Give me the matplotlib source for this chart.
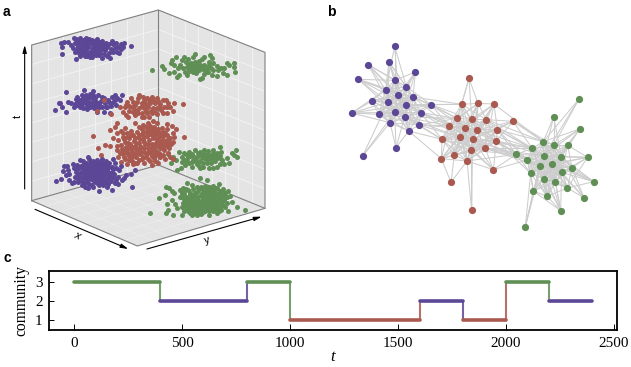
import numpy as np
import matplotlib
matplotlib.use('Agg')
import matplotlib.pyplot as plt
from matplotlib.patches import Polygon

## ------------------------------ colours -----------------------------------
PURPLE = '#5c4796'
RED = '#aa594f'
GREEN = '#5f8f55'

## ------------------------------ panel a data (positions) ---------
purple_top = [(183,130),(186,140),(186,162),(192,125),(205,127),(212,134),(222,113),(228,118),(238,122),(225,130),
(218,145),(225,157),(228,178),(240,115),(250,120),(255,128),(245,135),(235,140),(232,150),(242,148),(250,145),(245,158),
(240,168),(258,114),(268,118),(262,126),(272,130),(265,138),(258,150),(255,160),(262,168),(275,120),(285,122),(292,118),
(282,134),(275,145),(270,155),(280,160),(275,172),(290,140),(295,130),(300,126),(305,122),(290,152),(298,165),(305,175),
(310,135),(305,148),(318,130),(322,140),(315,150),(312,162),(322,168),(335,122),(338,132),(332,148),(340,155),(330,175),
(348,128),(355,140),(352,155),(362,132),(368,140),(362,148),(358,158),(372,128),(393,138),
(232,132),(240,130),(252,138),(262,145),(248,152),(238,158),(254,168),(268,162),(278,152),(285,145),(296,146),(300,138),
(282,128),(288,165),(300,158),(312,142),(326,132),(328,158),(345,145),(270,170)]
green_top = [(455,210),(485,198),(492,207),(508,218),(512,188),(517,180),(522,195),(528,172),(533,205),(537,225),
(522,217),(530,232),(540,195),(547,180),(553,172),(558,185),(565,178),(572,190),(578,170),(585,162),(548,205),(555,215),
(562,225),(560,200),(570,205),(578,200),(585,185),(590,195),(598,182),(605,178),(612,172),(630,165),(635,175),(628,185),
(580,215),(588,220),(596,210),(604,200),(612,195),(620,205),(628,195),(640,190),(650,198),(605,235),(600,238),(612,222),
(625,215),(635,225),(640,210),(650,228),(655,210),(662,205),(668,218),(672,205),(680,188),(687,195),(702,188),(703,200),
(680,225),(704,215),(585,208),(592,202),(575,212),(600,195),
(565,192),(572,198),(580,192),(568,212),(582,205),(590,212),(598,202),(610,208),(618,215),(632,205)]
purple_mid = [(165,330),(178,310),(197,275),(185,322),(180,310),(197,337),(205,307),(212,310),(222,322),(225,312),
(230,290),(240,300),(252,270),(245,285),(232,305),(240,320),(250,325),(260,318),(255,305),(262,295),(270,282),(278,272),
(268,305),(275,315),(282,325),(290,315),(285,295),(295,285),(305,292),(300,305),(295,325),(305,320),(315,310),(312,335),
(325,300),(335,290),(340,305),(322,320),(330,338),(345,285),(352,295),(365,285),(360,300),(348,315),(332,318),(248,295),
(258,285),(275,295),(262,328),(238,310),(290,335),(280,305),
(232,315),(246,312),(252,300),(262,308),(270,322),(268,292),(278,285),(288,305),(296,312),(305,300),(312,295),(318,320),
(330,308),(345,300),(285,318),(228,298)]
red_upper = [(290,333),(312,300),(332,342),(360,320),(368,335),(378,345),(385,352),(382,305),(392,295),(395,320),
(405,330),(415,340),(425,350),(418,285),(428,290),(440,295),(455,290),(470,295),(490,300),(498,300),(412,305),(425,310),
(438,312),(450,308),(465,310),(480,312),(492,320),(510,322),(522,308),(550,312),(405,345),(418,325),(432,325),(445,322),
(458,325),(470,325),(482,330),(442,340),(455,340),(470,342),(432,352),(448,350),(490,338),(405,315),(375,322),(388,332),
(520,332),(505,310),(378,315),(500,340),
(400,305),(415,295),(432,302),(446,300),(460,300),(475,303),(398,335),(412,332),(425,318),(438,332),(452,332),(465,335),
(478,322),(500,322),(388,318),(425,340)]
red_core = [(280,407),(295,445),(303,465),(315,435),(330,437),(330,390),(345,382),(352,370),(338,415),(350,400),
(362,392),(375,385),(355,420),(368,410),(380,400),(392,392),(405,368),(418,382),(430,375),(445,368),(460,362),(472,370),
(485,385),(500,372),(515,378),(528,388),(552,412),(362,435),(375,425),(388,415),(400,405),(412,395),(425,388),(438,382),
(450,378),(462,380),(475,388),(490,395),(502,388),(518,400),(522,412),(352,450),(365,448),(378,440),(390,432),(402,422),
(414,412),(426,402),(438,395),(450,390),(463,392),(476,400),(488,408),(500,405),(510,415),(518,425),(355,470),(368,462),
(380,455),(392,447),(404,437),(416,428),(428,418),(440,408),(452,402),(464,405),(476,412),(488,420),(500,420),(512,432),
(362,485),(375,478),(388,468),(400,460),(412,450),(424,442),(436,432),(448,420),(460,415),(472,425),(484,432),(496,435),
(508,445),(380,492),(395,482),(408,472),(420,462),(432,455),(444,445),(456,432),(468,438),(480,445),(492,450),(504,458),
(405,490),(418,480),(430,470),(442,462),(454,452),(466,450),(478,458),(490,465),(432,488),(445,478),(457,468),(469,465),
(481,472),(465,482),(455,495),(495,478),(510,470),(520,478)]
red_core_fill = [(370,398),(382,412),(394,404),(406,415),(418,404),(430,395),(444,390),(456,385),(470,395),(482,398),
(495,400),(372,418),(384,428),(396,440),(408,430),(420,418),(432,410),(446,402),(458,408),(470,418),(482,422),(494,428),
(506,425),(360,458),(372,452),(384,445),(396,455),(408,448),(420,440),(432,425),(444,432),(456,442),(468,428),(480,435),
(492,442),(372,470),(384,462),(396,472),(408,462),(420,452),(432,445),(444,455),(456,462),(468,458),(480,465),(398,492),
(412,488),(425,476),(438,470),(450,482),(462,475),(474,490),(388,480),(350,438),(502,435)]
green_mid = [(505,463),(512,488),(520,470),(528,480),(537,455),(530,510),(542,505),(545,470),(552,460),(560,465),
(568,455),(545,485),(555,480),(565,472),(575,462),(585,450),(600,455),(612,450),(625,452),(640,450),(660,440),(555,495),
(568,490),(580,480),(590,470),(600,465),(612,462),(625,462),(638,460),(650,458),(662,455),(575,500),(590,492),(600,482),
(612,475),(625,475),(638,472),(650,470),(660,468),(620,490),(632,488),(645,482),(600,505),(610,500),(628,505),(640,505),
(665,480),(672,492),(680,475),(688,488),(695,458),(708,450),(712,472),(702,465),(660,492),(650,500),
(570,468),(582,470),(594,460),(606,470),(618,468),(632,468),(644,465),(655,475),(575,485),(588,482),(608,488),(620,480),
(632,478),(645,472),(596,498),(560,482)]
purple_bot = [(167,543),(183,536),(188,512),(192,497),(200,497),(205,510),(198,525),(207,540),(215,550),(220,492),
(222,505),(232,495),(240,480),(250,483),(265,470),(268,478),(228,515),(225,530),(235,545),(245,555),(255,560),(265,565),
(238,505),(248,495),(258,490),(270,490),(280,482),(292,480),(305,478),(318,482),(328,490),(240,518),(250,508),(260,502),
(272,500),(284,495),(296,492),(308,492),(320,498),(335,500),(345,488),(240,530),(252,522),(262,515),(274,510),(286,506),
(298,504),(310,504),(322,510),(335,515),(348,505),(245,543),(256,535),(266,528),(278,522),(290,518),(302,516),(314,518),
(326,525),(338,530),(358,510),(262,545),(272,538),(284,533),(296,530),(308,530),(320,536),(332,542),(355,530),(378,525),
(275,555),(288,546),(300,542),(312,545),(325,552),(345,550),(365,540),(280,562),(296,555),(310,556),(298,574),(335,570),
(355,552),(395,560),(392,522),(405,510),(372,535),(362,498),(222,545),(340,478)]
purple_bot_fill = [(232,508),(244,498),(254,500),(266,496),(278,490),(290,488),(302,486),(314,492),(326,500),(338,508),
(234,524),(246,515),(256,508),(268,505),(280,500),(292,500),(304,498),(316,505),(328,518),(342,522),(235,538),(248,530),
(258,522),(270,518),(282,515),(294,512),(306,510),(318,512),(332,535),(348,540),(252,548),(264,537),(276,530),(288,526),
(300,524),(312,525),(324,530),(268,552),(282,542),(294,538),(306,538),(318,545),(292,550),(304,550),(322,560),(206,522)]
green_bot = [(450,640),(478,595),(495,585),(497,560),(507,565),(515,572),(522,578),(500,612),(505,630),(498,640),
(518,645),(515,600),(525,612),(530,625),(540,590),(548,565),(562,548),(575,555),(590,560),(600,535),(622,540),(658,552),
(540,570),(552,578),(565,570),(578,568),(590,575),(602,560),(615,558),(628,560),(640,558),(652,565),(668,568),(685,572),
(545,592),(558,590),(570,585),(582,588),(594,590),(606,578),(618,572),(630,572),(642,572),(654,578),(666,582),(680,590),
(550,608),(562,605),(574,600),(586,603),(598,605),(610,595),(622,588),(634,586),(646,588),(658,595),(672,600),(695,605),
(545,622),(558,620),(570,615),(582,618),(594,620),(606,612),(618,604),(630,602),(642,602),(654,610),(668,615),(690,588),
(565,634),(578,632),(590,633),(602,628),(614,620),(626,618),(638,618),(650,625),(664,630),(710,622),(575,644),(590,645),
(603,642),(616,634),(628,634),(640,634),(652,640),(545,645),(735,630),(683,632),(626,646)]
green_bot_fill = [(546,580),(558,568),(570,578),(584,578),(596,568),(608,568),(622,565),(634,565),(646,565),(660,572),
(674,580),(552,598),(564,596),(576,593),(590,597),(602,586),(614,582),(626,580),(638,580),(650,585),(662,590),(674,590),
(556,614),(568,608),(580,610),(592,612),(604,602),(616,595),(628,595),(640,595),(652,600),(664,605),(680,608),(552,632),
(564,626),(576,624),(588,626),(600,620),(612,612),(624,610),(636,610),(648,615),(660,620),(676,622),(570,640),(584,640),
(596,638),(608,636),(620,628),(632,626),(644,628),(658,632)]

# drawn back to front, same order as the picture
clouds = [(green_top, GREEN), (green_mid, GREEN), (purple_top, PURPLE), (purple_mid, PURPLE),
          (red_upper, RED), (red_core, RED), (red_core_fill, RED), (purple_bot, PURPLE), (purple_bot_fill, PURPLE),
          (green_bot, GREEN), (green_bot_fill, GREEN)]

# cube corners of the 3d view
back_top, left_top, right_top = (475, 30), (95, 135), (795, 157)
back_bot, left_bot, right_bot, front_bot = (475, 495), (95, 602), (795, 625), (412, 738)

## ------------------------------ panel b data -----------------------------------
purple_nodes = [(224,139),(145,194),(207,186),(286,216),(115,238),(224,241),(259,260),(197,269),(235,284),(279,291),
(155,303),(204,306),(258,314),(333,314),(95,339),(177,343),(224,337),(302,338),(254,351),(210,368),(297,375),(266,393),
(228,443),(128,468)]
red_nodes = [(447,235),(425,313),(474,310),(522,312),(412,355),(455,358),(499,359),(579,364),(387,377),(434,385),
(470,390),(532,389),(366,418),(419,411),(458,417),(529,423),(496,445),(454,451),(403,465),(364,476),(441,483),(520,509),
(393,547),(455,631)]
green_nodes = [(777,297),(701,351),(779,387),(670,425),(701,436),(743,436),(637,445),(672,467),(724,471),(803,472),
(589,463),(622,480),(697,493),(659,499),(756,503),(725,517),(632,520),(672,537),(706,545),(821,545),(742,564),(640,573),
(681,589),(792,593),(722,632),(616,680)]

purple_links = {0:[5,7,8,6], 1:[7,5,8,11,6,12], 2:[5,7,8,11,6,12,9], 3:[6,9,5,12,8,16], 4:[7,11,8,5,16,12,9],
5:[7,6,8,11,12,9,16,15,18,19], 6:[8,9,12,11,16,18,7,15,19,17], 7:[8,11,12,16,15,10,19,18,9,17],
8:[9,11,12,16,18,19,17,15,20,21,10], 9:[12,16,18,17,20,13,11,15,19,21], 10:[11,16,15,19,8,12,18,9],
11:[12,16,15,18,19,21,17,20], 12:[16,17,18,19,20,21,15,10], 13:[12,17,18,6,16], 14:[10,15,16,19,11,7,12],
15:[16,19,18,17,20,21], 16:[17,18,19,20,21,22], 17:[18,20,21,19], 18:[19,20,21,22], 19:[20,21,22,23],
20:[21], 21:[22], 23:[16,11]}
red_links = {0:[1,2,4,5], 1:[2,4,5,8,9,10,6,13,14], 2:[3,4,5,6,9,10,14,13,8,17], 3:[5,6,10,11,14,16,9],
4:[5,8,9,10,12,13,14,17,16,18,20], 5:[6,8,9,10,13,14,16,17,15,11,12,18], 6:[9,10,11,14,15,16,17,13,20],
7:[6,11,15,10,14], 8:[9,12,13,14,17,18,19,10,20,16], 9:[10,12,13,14,16,17,18,20,11,15,19],
10:[11,13,14,15,16,17,20,18,12,19], 11:[14,15,16,17,13,20], 12:[13,17,18,19,20,14,16], 13:[14,16,17,18,19,20,15,21],
14:[15,16,17,18,20,21,19], 15:[16,17,20,21,18], 16:[17,20,21,18], 17:[18,19,20,21], 18:[19,20,22], 19:[22,20],
20:[22,23,21], 23:[17,14]}
green_links = {0:[3,4,7], 1:[3,4,7,8], 2:[4,5,7,8,12,3], 3:[4,6,7,8,11,12,13,15,14,17,16,18],
4:[5,6,7,8,12,13,14,15,17,11,16,18,20], 5:[7,8,12,13,14,15,9,17,6], 6:[7,11,12,13,16,17,18,8,15,22],
7:[8,11,12,13,14,15,16,17,18,20,22,21], 8:[12,13,14,15,17,18,9,19,16,11,22], 9:[12,14,15,20,7,13],
10:[6,11,13,7,16,12], 11:[12,13,16,17,21,18,15,22], 12:[13,14,15,16,17,18,20,22,19,21],
13:[14,15,16,17,18,21,22,24,20], 14:[15,18,19,20,23,17], 15:[17,18,19,20,22,23,24,16,21], 16:[17,21,22,25,18],
17:[18,21,22,24,20], 18:[20,22,24,21], 19:[7,12,20], 20:[22,23,12], 21:[22,24,25], 22:[24,12], 23:[12,8],
24:[7,12], 25:[13,7]}
purple_red = [(9,8),(9,4),(12,8),(13,1),(13,4),(13,8),(13,9),(17,4),(17,8),(17,9),(17,12),(18,8),(18,4),(20,8),(20,12),
(20,13),(21,12),(20,4),(12,1),(18,12),(9,1),(17,13),(20,9),(13,5),(21,19),(18,13)]
red_green = [(7,3),(7,6),(7,4),(11,6),(11,3),(11,10),(15,6),(15,10),(15,11),(15,7),(16,10),(16,6),(16,11),(16,13),(6,6),
(21,10),(21,11),(14,10),(10,6),(11,11),(15,13),(3,3),(20,10),(16,7),(14,6),(10,11),(14,11),(11,7),(17,10),(6,3),(15,16)]

## ------------------------------ panel c data -----------------------------------
segment_t = [0, 400, 800, 1000, 1600, 1800, 2000, 2200, 2400]
segment_community = [3, 2, 3, 1, 2, 1, 3, 2]
segment_colour = [GREEN, PURPLE, GREEN, RED, PURPLE, RED, GREEN, PURPLE]
t_ticks = [0, 500, 1000, 1500, 2000, 2500]
community_ticks = [1, 2, 3]


W, H = 631, 367

def pixel_axes(fig, left, top, width, height):
    return fig.add_axes([left / W, 1 - (top + height) / H, width / W, height / H])

def draw_wall(ax, a, b, c, d, n_ab, n_bc, grid_col='#f6f6f6', lw=0.55):
    ax.add_patch(Polygon([a, b, c, d], closed=True, fc='#e4e4e4', ec='none', zorder=1))
    a, b, c, d = map(np.array, (a, b, c, d))
    for f in np.linspace(0, 1, n_ab + 1)[1:-1]:
        p, q = a + f * (b - a), d + f * (c - d)
        ax.plot([p[0], q[0]], [p[1], q[1]], color=grid_col, lw=lw, zorder=2)
    for f in np.linspace(0, 1, n_bc + 1)[1:-1]:
        p, q = a + f * (d - a), b + f * (c - b)
        ax.plot([p[0], q[0]], [p[1], q[1]], color=grid_col, lw=lw, zorder=2)


plt.rcParams['font.family'] = ['Liberation Sans', 'DejaVu Sans']
fig = plt.figure(figsize=(W / 100, H / 100), dpi=100)

## panel a
ax_a = pixel_axes(fig, 0, 0, 290, 250)
ax_a.set_xlim(0, 870)
ax_a.set_ylim(750, 0)
ax_a.axis('off')

draw_wall(ax_a, left_top, back_top, back_bot, left_bot, 8, 8)
draw_wall(ax_a, back_top, right_top, right_bot, back_bot, 8, 8)
draw_wall(ax_a, left_bot, back_bot, right_bot, front_bot, 8, 8, grid_col='#eeeeee', lw=0.45)
outline = [[left_bot, left_top, back_top, right_top, right_bot, front_bot, left_bot],
           [back_top, back_bot], [left_bot, back_bot, right_bot]]
for seg in outline:
    seg = np.array(seg)
    ax_a.plot(seg[:, 0], seg[:, 1], color='#7f7f7f', lw=0.8, zorder=3)

for pts, col in clouds:
    pts = np.array(pts)
    ax_a.scatter(pts[:, 0], pts[:, 1], s=13, color=col, linewidths=0, zorder=4)

arrow = dict(arrowstyle='-|>,head_width=0.12,head_length=0.45', color='black', lw=0.8, shrinkA=0, shrinkB=0)
ax_a.annotate('', xy=(74, 135), xytext=(74, 567), arrowprops=arrow)
ax_a.annotate('', xy=(385, 747), xytext=(105, 628), arrowprops=arrow)
ax_a.annotate('', xy=(785, 650), xytext=(441, 747), arrowprops=arrow)
ax_a.text(53, 350, 't', rotation=90, ha='center', va='center', fontsize=8)
ax_a.text(231, 706, 'x', rotation=-25, ha='center', va='center', fontsize=8, style='italic')
ax_a.text(622, 720, 'y', rotation=17, ha='center', va='center', fontsize=8)

## panel b
ax_b = pixel_axes(fig, 320, 0, 300, 240)
ax_b.set_xlim(0, 900)
ax_b.set_ylim(720, 0)
ax_b.axis('off')

def draw_links(ax, nodes_from, nodes_to, pairs):
    for i, j in pairs:
        ax.plot([nodes_from[i][0], nodes_to[j][0]], [nodes_from[i][1], nodes_to[j][1]],
                color='#cdcdcd', lw=0.75, zorder=1)

for nodes, links in [(purple_nodes, purple_links), (red_nodes, red_links), (green_nodes, green_links)]:
    draw_links(ax_b, nodes, nodes, [(i, j) for i, js in links.items() for j in js])
draw_links(ax_b, purple_nodes, red_nodes, purple_red)
draw_links(ax_b, red_nodes, green_nodes, red_green)

for nodes, col in [(purple_nodes, PURPLE), (red_nodes, RED), (green_nodes, GREEN)]:
    nodes = np.array(nodes)
    ax_b.scatter(nodes[:, 0], nodes[:, 1], s=27, color=col, linewidths=0, zorder=3)

## panel c
ax_c = pixel_axes(fig, 49, 271, 568, 59)
for k in range(len(segment_community)):
    ax_c.plot(segment_t[k:k + 2], [segment_community[k]] * 2, color=segment_colour[k], lw=2.6,
              solid_capstyle='round', zorder=3)
    if k + 1 < len(segment_community):
        ax_c.plot([segment_t[k + 1]] * 2, [segment_community[k], segment_community[k + 1]],
                  color=segment_colour[k], lw=1.5, alpha=0.85, zorder=2)
ax_c.set_xlim(-116, 2514)
ax_c.set_ylim(0.45, 3.6)
ax_c.set_xticks(t_ticks)
ax_c.set_yticks(community_ticks)
ax_c.tick_params(axis='x', direction='in', length=4.5, width=0.7, labelsize=10.9, pad=5)
ax_c.tick_params(axis='y', direction='in', length=3.5, width=0.7, labelsize=10.9, pad=4.5)
for lab in ax_c.get_xticklabels() + ax_c.get_yticklabels():
    lab.set_family(['Liberation Serif'])
for side in ax_c.spines.values():
    side.set_linewidth(1.3)
ax_c.set_xlabel('t', family=['Liberation Serif'], style='italic', fontsize=12)
ax_c.xaxis.set_label_coords(0.5, -0.32)
ax_c.set_ylabel('community', family=['Liberation Serif'], fontsize=11.2)
ax_c.yaxis.set_label_coords(-0.035, 0.5)

## panel letters
for label, px, py in [('a', 3, 12), ('b', 327, 12), ('c', 3, 258)]:
    fig.text(px / W, 1 - py / H, label, fontsize=10, fontweight='bold', ha='left', va='center')

fig.savefig('out.png', dpi=100)
